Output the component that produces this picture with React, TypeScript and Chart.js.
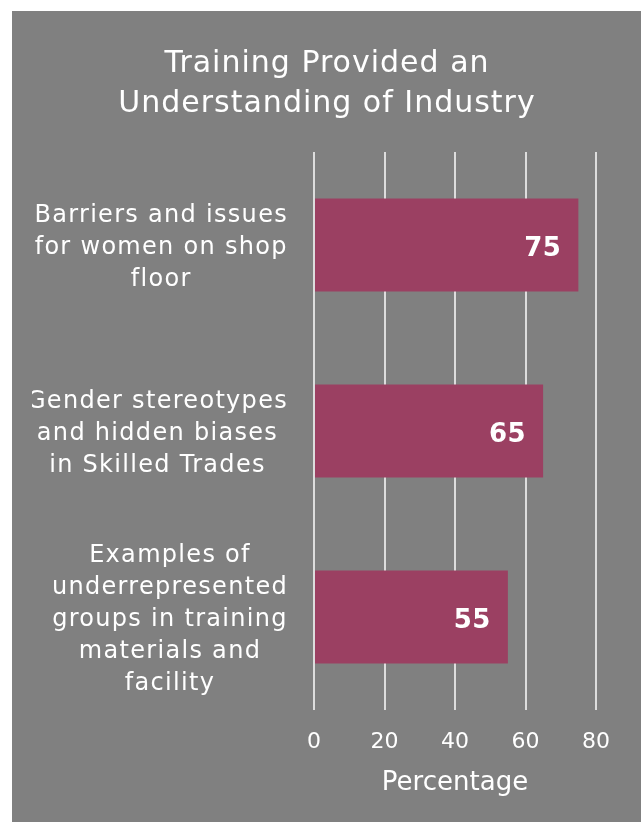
import React, { useEffect, useRef } from "react";
import { Chart, registerables } from "chart.js";

Chart.register(...registerables);

const titleLines = ["Training Provided an", "Understanding of Industry"];
const categories: string[][] = [
  ["Barriers and issues", "for women on shop", "floor"],
  ["Gender stereotypes", "and hidden biases", "in Skilled Trades"],
  ["Examples of", "underrepresented", "groups in training", "materials and", "facility"],
];
const values = [75, 65, 55];
const xTicks = [0, 20, 40, 60, 80];
const xAxisTitle = "Percentage";

const FONT = "'DejaVu Sans', Verdana, sans-serif";
const BAR_COLOR = "#9b4062";
const BG = "#808080";

const textPlugin = {
  id: "customText",
  afterDraw(chart: any) {
    const ctx = chart.ctx;
    const area = chart.chartArea;
    const yScale = chart.scales.y;
    const xScale = chart.scales.x;
    ctx.save();
    ctx.fillStyle = "#ffffff";

    // Title
    ctx.font = `30px ${FONT}`;
    (ctx as any).letterSpacing = "1px";
    ctx.textAlign = "center";
    ctx.textBaseline = "alphabetic";
    titleLines.forEach((line, i) => {
      ctx.fillText(line, chart.width / 2 + 0.5, 61 + i * 40);
    });

    // Category labels: block right-aligned, lines centred within block, clipped to axis box
    ctx.save();
    ctx.beginPath();
    ctx.rect(yScale.left, 0, yScale.right - yScale.left, chart.height);
    ctx.clip();
    ctx.font = `24px ${FONT}`;
    (ctx as any).letterSpacing = "1.3px";
    const rightEdge = yScale.right - 26;
    categories.forEach((lines, i) => {
      const yc = yScale.getPixelForTick(i);
      const n = lines.length;
      const widest = Math.max(...lines.map((l) => ctx.measureText(l).width));
      const cx = rightEdge - widest / 2;
      lines.forEach((line, j) => {
        ctx.fillText(line, cx, yc + (j - (n - 1) / 2) * 32 + 8.5);
      });
    });
    ctx.restore();

    // Axis title
    ctx.font = `26px ${FONT}`;
    (ctx as any).letterSpacing = "0px";
    ctx.textAlign = "center";
    ctx.textBaseline = "alphabetic";
    ctx.fillText(xAxisTitle, (xScale.left + xScale.right) / 2, area.bottom + 80);

    // Value labels
    const meta = chart.getDatasetMeta(0);
    ctx.font = `bold 26px ${FONT}`;
    (ctx as any).letterSpacing = "0.5px";
    ctx.textAlign = "right";
    meta.data.forEach((bar: any, i: number) => {
      ctx.fillText(String(values[i]), bar.x - 17, bar.y + 11);
    });
    ctx.restore();
  },
};

export default function App() {
  const ref = useRef<HTMLCanvasElement | null>(null);
  useEffect(() => {
    if (!ref.current) return;
    Chart.defaults.font.family = FONT;
    const chart = new Chart(ref.current, {
      type: "bar",
      data: {
        labels: categories,
        datasets: [
          {
            data: values,
            backgroundColor: BAR_COLOR,
            borderWidth: 0,
            barPercentage: 0.5,
            categoryPercentage: 1,
          },
        ],
      },
      options: {
        indexAxis: "y",
        animation: false,
        responsive: false,
        devicePixelRatio: 1,
        layout: { padding: { left: 20, right: 45, top: 141, bottom: 0 } },
        plugins: {
          legend: { display: false },
          tooltip: { enabled: false },
          title: { display: false },
        },
        scales: {
          x: {
            min: 0,
            max: 80,
            afterBuildTicks: (s: any) => {
              s.ticks = xTicks.map((v) => ({ value: v }));
            },
            ticks: { color: "#ffffff", font: { size: 22 }, padding: 19 },
            grid: { color: "#dddddd", lineWidth: 2, drawTicks: false },
            border: { display: false },
            afterFit: (s: any) => {
              s.height = 112;
            },
          },
          y: {
            ticks: { display: false },
            grid: { display: false, drawTicks: false },
            border: { display: false },
            afterFit: (s: any) => {
              s.width = 282;
            },
          },
        },
      },
      plugins: [textPlugin],
    } as any);
    return () => chart.destroy();
  }, []);

  return (
    <div
      style={{
        position: "absolute",
        left: 12,
        top: 11,
        width: 629,
        height: 811,
        background: BG,
      }}
    >
      <canvas ref={ref} width={629} height={811} style={{ display: "block" }} />
    </div>
  );
}
